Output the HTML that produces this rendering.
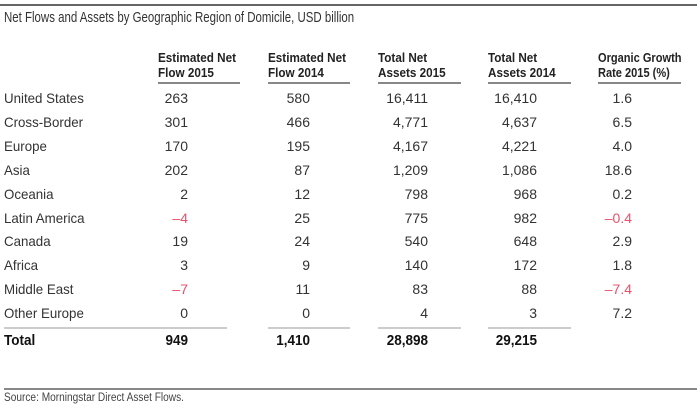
<!DOCTYPE html>
<html><head><meta charset="utf-8"><style>
body{margin:0;width:700px;height:409px;background:#fff;position:relative;overflow:hidden;font-family:"Liberation Sans",sans-serif;color:#333;}
div{position:absolute;white-space:nowrap;}
.t{font-size:14px;line-height:16px;}
.h{font-weight:bold;font-size:13px;line-height:15px;color:#222;transform:scaleX(0.9);transform-origin:0 0;}
.n{text-align:right;width:80px;}
.r{color:#e8506a;}
.ln{height:2px;background:#ccc;}
.b{font-weight:bold;color:#111;font-size:15px;}
.bs{transform:scaleX(0.9);transform-origin:100% 0;}
.lb{transform:scaleX(0.95);transform-origin:0 0;}
</style></head><body>
<div style="left:0;top:4px;width:697px;height:2px;background:#666"></div>
<div class="t" style="left:4px;top:10px;font-size:14.5px;transform:scaleX(0.79);transform-origin:0 0">Net Flows and Assets by Geographic Region of Domicile, USD billion</div>

<div class="h" style="left:158px;top:50px">Estimated Net<br>Flow 2015</div>
<div class="h" style="left:268px;top:50px">Estimated Net<br>Flow 2014</div>
<div class="h" style="left:378px;top:50px">Total Net<br>Assets 2015</div>
<div class="h" style="left:488px;top:50px">Total Net<br>Assets 2014</div>
<div class="h" style="left:598px;top:50px;transform:scaleX(0.85)">Organic Growth<br>Rate 2015 (%)</div>
<div class="ln" style="left:158px;top:82px;width:82px;background:#888"></div>
<div class="ln" style="left:268px;top:82px;width:82px;background:#888"></div>
<div class="ln" style="left:378px;top:82px;width:83px;background:#888"></div>
<div class="ln" style="left:488px;top:82px;width:83px;background:#888"></div>
<div class="ln" style="left:598px;top:82px;width:83px;background:#888"></div>

<div id="rows"></div>
<script>
var d=[["United States","263","580","16,411","16,410","1.6"],["Cross-Border","301","466","4,771","4,637","6.5"],["Europe","170","195","4,167","4,221","4.0"],["Asia","202","87","1,209","1,086","18.6"],["Oceania","2","12","798","968","0.2"],["Latin America","–4","25","775","982","–0.4"],["Canada","19","24","540","648","2.9"],["Africa","3","9","140","172","1.8"],["Middle East","–7","11","83","88","–7.4"],["Other Europe","0","0","4","3","7.2"]];
var R=[188,310,428,537,632],h="";
d.forEach(function(r,i){var y=90+i*23.9;
h+='<div class="t lb" style="left:4px;top:'+y+'px">'+r[0]+'</div>';
for(var j=1;j<6;j++){h+='<div class="t n'+(r[j][0]=="–"?" r":"")+'" style="left:'+(R[j-1]-80)+'px;top:'+y+'px">'+r[j]+'</div>';}});
document.getElementById("rows").outerHTML=h;
</script>
<div class="ln" style="left:4px;top:327px;width:223px"></div>
<div class="ln" style="left:268px;top:327px;width:82px"></div>
<div class="ln" style="left:378px;top:327px;width:83px"></div>
<div class="ln" style="left:488px;top:327px;width:83px"></div>
<div class="t b" style="left:4px;top:333px;transform:scaleX(0.9);transform-origin:0 0">Total</div>
<div class="t b n bs" style="left:108px;top:333px">949</div>
<div class="t b n bs" style="left:230px;top:333px">1,410</div>
<div class="t b n bs" style="left:348px;top:333px">28,898</div>
<div class="t b n bs" style="left:457px;top:333px">29,215</div>
<div style="left:4px;top:388px;width:693px;height:2px;background:#888"></div>
<div style="left:4px;top:392px;font-size:11.5px;color:#444;transform:scaleX(0.88);transform-origin:0 0">Source: Morningstar Direct Asset Flows.</div>
</body></html>
